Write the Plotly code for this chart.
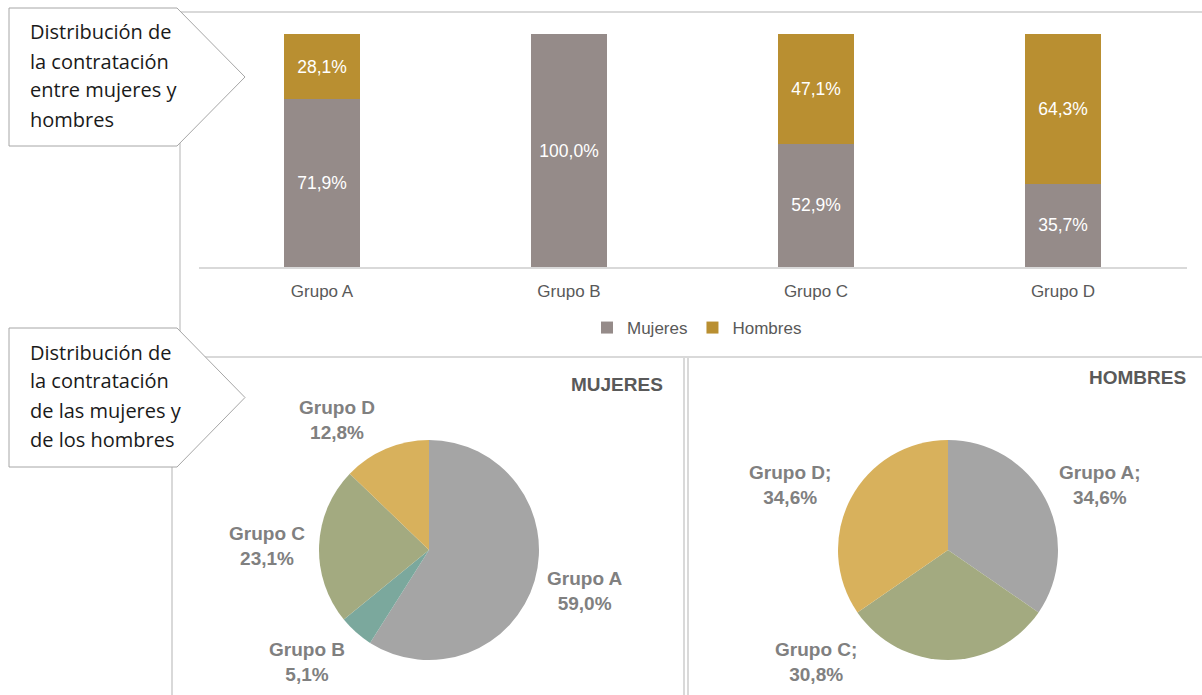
import plotly.graph_objects as go

W, H = 1202, 695

grupos = ["Grupo A", "Grupo B", "Grupo C", "Grupo D"]
mujeres_pct = [71.9, 100.0, 52.9, 35.7]
hombres_pct = [28.1, 0.0, 47.1, 64.3]

pie_mujeres = [59.0, 5.1, 23.1, 12.8]
pie_hombres = [34.6, 0.0, 30.8, 34.6]
pie_colors = ["#A5A5A5", "#7BA89D", "#A3AA80", "#D8B15C"]

callout_top = ["Distribución de", "la contratación", "entre mujeres y", "hombres"]
callout_bottom = ["Distribución de", "la contratación", "de las mujeres y", "de los hombres"]

C_MUJ = "#958B89"
C_HOM = "#B98F31"
GRID = "#D9D9D9"
LABEL_GRAY = "#808080"
FONT_UI = "Open Sans, Noto Sans, sans-serif"
FONT_AR = "Liberation Sans, Arial, sans-serif"


def px(x):
    return x / W


def py(y):
    return 1 - y / H


def pct(v):
    return f"{v:.1f}%".replace(".", ",")


fig = go.Figure()

fig.add_trace(go.Bar(
    x=grupos, y=mujeres_pct, name="Mujeres", marker_color=C_MUJ,
    text=[pct(v) if v > 0 else "" for v in mujeres_pct],
))
fig.add_trace(go.Bar(
    x=grupos, y=hombres_pct, name="Hombres", marker_color=C_HOM,
    text=[pct(v) if v > 0 else "" for v in hombres_pct],
))
fig.update_traces(
    textposition="inside", insidetextanchor="middle", textangle=0,
    constraintext="none", textfont=dict(color="white", size=17.5, family=FONT_AR),
    marker_line_width=0, hoverinfo="skip",
)

# pies: center / radius in pixels
pies = [
    (pie_mujeres, 429, 550, 110),
    (pie_hombres, 948, 550, 110),
]
for vals, cx, cy, r in pies:
    fig.add_trace(go.Pie(
        labels=grupos, values=vals, sort=False, direction="clockwise", rotation=0,
        marker=dict(colors=pie_colors, line=dict(width=0)),
        textinfo="none", showlegend=False, hoverinfo="skip",
        domain=dict(x=[px(cx - r), px(cx + r)], y=[py(cy + r), py(cy - r)]),
    ))

# pie labels (manual, to mimic Excel positions)
left_pos = [(585, 591), (307, 662), (267, 546), (337, 420)]
right_pos = [(1100, 485), None, (816, 662), (790, 485)]
annotations = []
for vals, pos, sep in [(pie_mujeres, left_pos, ""), (pie_hombres, right_pos, ";")]:
    for g, v, p in zip(grupos, vals, pos):
        if v <= 0 or p is None:
            continue
        annotations.append(dict(
            x=px(p[0]), y=py(p[1]), xref="paper", yref="paper",
            text=f"<b>{g}{sep}<br>{pct(v)}</b>", showarrow=False,
            font=dict(size=19, color=LABEL_GRAY, family=FONT_AR),
            xanchor="center", yanchor="middle", align="center",
        ))

annotations.append(dict(x=px(665), y=py(384), xref="paper", yref="paper", text="<b>MUJERES</b>",
                        showarrow=False, xanchor="right", yanchor="middle",
                        font=dict(size=19, color="#595959", family=FONT_AR)))
annotations.append(dict(x=px(1188), y=py(377), xref="paper", yref="paper", text="<b>HOMBRES</b>",
                        showarrow=False, xanchor="right", yanchor="middle",
                        font=dict(size=19, color="#595959", family=FONT_AR)))

# panel borders
shapes = []
line_style = dict(color=GRID, width=2)
for x0, y0, x1, y1 in [
    (180, 12, 1202, 12), (180, 12, 180, 357), (172, 357, 1202, 357),
    (172, 357, 172, 695), (684, 357, 684, 695), (688, 357, 688, 695),
]:
    shapes.append(dict(type="line", xref="paper", yref="paper",
                       x0=px(x0), y0=py(y0), x1=px(x1), y1=py(y1), line=line_style))

# callout arrows
for top, bot, lines in [(8, 146, callout_top), (328, 467, callout_bottom)]:
    mid = (top + bot) / 2
    path = (f"M {px(9)},{py(top)} L {px(177)},{py(top)} L {px(245)},{py(mid)} "
            f"L {px(177)},{py(bot)} L {px(9)},{py(bot)} Z")
    shapes.append(dict(type="path", xref="paper", yref="paper", path=path,
                       fillcolor="white", line=dict(color="#A6A6A6", width=1)))
    for i, t in enumerate(lines):
        annotations.append(dict(
            x=px(28), y=py(top + 24 + i * 29), xref="paper", yref="paper", text=t,
            showarrow=False, xanchor="left", yanchor="middle",
            font=dict(size=20, color="#1A1A1A", family=FONT_UI),
        ))

fig.update_layout(
    width=W, height=H, margin=dict(l=0, r=0, t=0, b=0),
    paper_bgcolor="white", plot_bgcolor="white",
    barmode="stack", bargap=0.69,
    xaxis=dict(domain=[px(198.5), px(1186.5)], showline=True, linecolor=GRID, linewidth=2,
               ticks="", showgrid=False, fixedrange=True, ticklabelstandoff=8,
               tickfont=dict(size=17, color="#595959", family=FONT_AR)),
    yaxis=dict(domain=[py(267), py(34)], range=[0, 100], visible=False, fixedrange=True),
    legend=dict(orientation="h", x=px(697), xanchor="center", y=py(328), yanchor="middle",
                font=dict(size=17, color="#595959", family=FONT_AR), itemwidth=30,
                traceorder="normal"),
    shapes=shapes,
    annotations=annotations,
)

fig.write_html("out.html", config={"displayModeBar": False},
               post_script="document.body.style.margin='0';")
